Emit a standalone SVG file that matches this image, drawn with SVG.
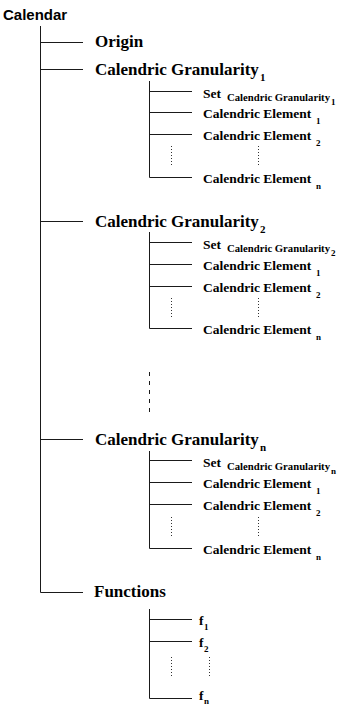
<svg xmlns="http://www.w3.org/2000/svg" width="342" height="704" viewBox="0 0 342 704">
<style>
.ln{stroke:#1a1a1a;stroke-width:1;fill:none}
.dot{stroke:#333;stroke-width:1;stroke-dasharray:1 2;fill:none}
.dash{stroke:#1a1a1a;stroke-width:1;stroke-dasharray:4 5;fill:none}
.title{font-family:"Liberation Sans",Arial,sans-serif;font-weight:bold;font-size:15px;fill:#000}
.main{font-family:"Liberation Serif","Times New Roman",serif;font-weight:bold;font-size:17px;fill:#000}
.sub{font-family:"Liberation Serif","Times New Roman",serif;font-weight:bold;font-size:13.5px;fill:#000}
.s1{font-size:11px}
.s2{font-size:10.7px}
.s3{font-size:9px}
</style>
<rect width="342" height="704" fill="#fff"/>
<g id="connectors">
  <path class="ln" d="M40.5 26V592.5H83"/>
  <path class="ln" d="M40.5 42.5H83M40.5 69.5H83M40.5 221.5H83M40.5 439.5H83"/>
  <path class="ln" d="M149.5 81V177.5H192M149.5 91.5H192M149.5 112.5H192M149.5 134.5H192"/>
  <path class="dot" d="M171.5 146V166M258.5 146V166"/>
  <path class="ln" d="M149.5 232V328.5H192M149.5 242.5H192M149.5 264.5H192M149.5 286.5H192"/>
  <path class="dot" d="M171.5 298V318M258.5 298V318"/>
  <path class="dash" d="M149.5 372V414"/>
  <path class="ln" d="M149.5 451V548.5H192M149.5 460.5H192M149.5 482.5H192M149.5 504.5H192"/>
  <path class="dot" d="M171.5 517V537M258.5 517V537"/>
  <path class="ln" d="M149.5 609V698.5H192M149.5 619.5H192M149.5 641.5H192"/>
  <path class="dot" d="M171.5 657V677M209.5 657V677"/>
</g>
<g id="calendar"><text class="title" x="3" y="20">Calendar</text></g>
<g id="origin"><text class="main" x="95" y="47">Origin</text></g>

<g id="granularity1"><text class="main" x="95" y="75">Calendric Granularity<tspan class="s1" x="260" y="81">1</tspan></text></g>
<g id="set1"><text class="sub" x="203" y="97.5">Set<tspan class="s2" x="227" y="101">Calendric Granularity</tspan><tspan class="s3" x="331" y="105">1</tspan></text></g>
<g id="element1-1"><text class="sub" x="203" y="118">Calendric Element<tspan class="s3" x="316" y="123.5">1</tspan></text></g>
<g id="element1-2"><text class="sub" x="203" y="140">Calendric Element<tspan class="s3" x="316" y="145.5">2</tspan></text></g>
<g id="element1-n"><text class="sub" x="203" y="183">Calendric Element<tspan class="s3" x="316" y="188.5">n</tspan></text></g>

<g id="granularity2"><text class="main" x="95" y="227">Calendric Granularity<tspan class="s1" x="260" y="233">2</tspan></text></g>
<g id="set2"><text class="sub" x="203" y="248.5">Set<tspan class="s2" x="227" y="252">Calendric Granularity</tspan><tspan class="s3" x="331" y="256">2</tspan></text></g>
<g id="element2-1"><text class="sub" x="203" y="270">Calendric Element<tspan class="s3" x="316" y="275.5">1</tspan></text></g>
<g id="element2-2"><text class="sub" x="203" y="292">Calendric Element<tspan class="s3" x="316" y="297.5">2</tspan></text></g>
<g id="element2-n"><text class="sub" x="203" y="334">Calendric Element<tspan class="s3" x="316" y="339.5">n</tspan></text></g>

<g id="granularityn"><text class="main" x="95" y="445">Calendric Granularity<tspan class="s1" x="260" y="451">n</tspan></text></g>
<g id="setn"><text class="sub" x="203" y="466.5">Set<tspan class="s2" x="227" y="470">Calendric Granularity</tspan><tspan class="s3" x="331" y="474">n</tspan></text></g>
<g id="elementn-1"><text class="sub" x="203" y="488">Calendric Element<tspan class="s3" x="316" y="493.5">1</tspan></text></g>
<g id="elementn-2"><text class="sub" x="203" y="510">Calendric Element<tspan class="s3" x="316" y="515.5">2</tspan></text></g>
<g id="elementn-n"><text class="sub" x="203" y="554">Calendric Element<tspan class="s3" x="316" y="559.5">n</tspan></text></g>

<g id="functions"><text class="main" x="94" y="597">Functions</text></g>
<g id="f1"><text class="sub" x="199" y="625">f<tspan class="s3" x="204" y="630">1</tspan></text></g>
<g id="f2"><text class="sub" x="199" y="647">f<tspan class="s3" x="204" y="652">2</tspan></text></g>
<g id="fn"><text class="sub" x="199" y="700">f<tspan class="s3" x="204" y="703.5">n</tspan></text></g>
</svg>
